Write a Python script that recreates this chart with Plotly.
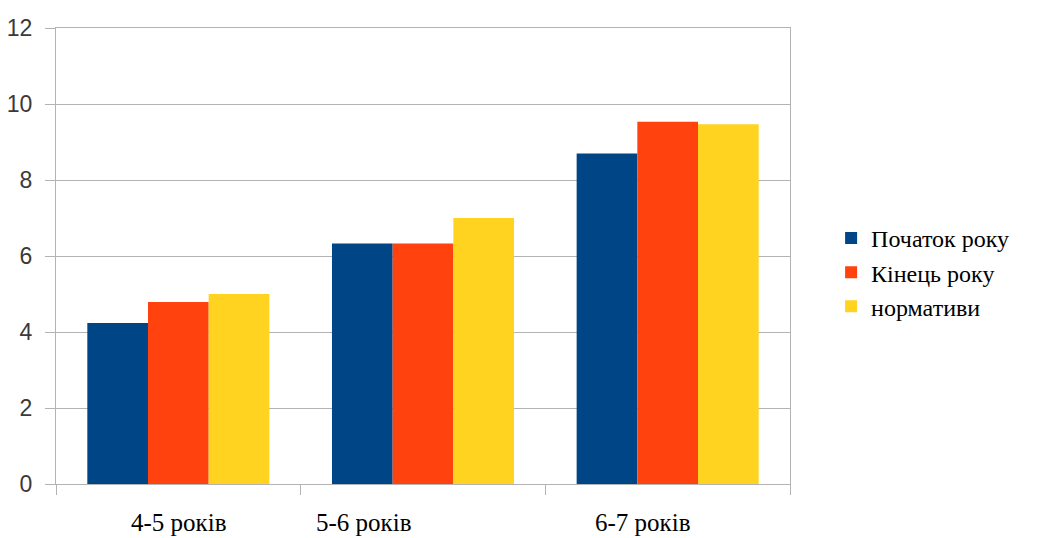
import plotly.graph_objects as go

categories = ["4-5 років", "5-6 років", "6-7 років"]
series_names = ["Початок року", "Кінець року", "нормативи"]
start_values = [4.24, 6.33, 8.7]
end_values = [4.79, 6.33, 9.53]
norm_values = [5.0, 7.0, 9.47]
y_ticks = [0, 2, 4, 6, 8, 10, 12]

colors = ["#004586", "#ff420e", "#ffd320"]
label_shifts = [0, -60, -25]

fig = go.Figure()
for name, vals, col in zip(series_names, [start_values, end_values, norm_values], colors):
    fig.add_trace(go.Bar(x=categories, y=vals, name=name, marker=dict(color=col, line=dict(width=0))))

for cat, sh in zip(categories, label_shifts):
    fig.add_annotation(x=cat, xref="x", y=0, yref="paper", yanchor="top", yshift=-23,
                       xshift=sh, text=cat, showarrow=False,
                       font=dict(family="Liberation Serif", size=25, color="#000000"))

fig.update_layout(
    width=1036, height=530,
    margin=dict(l=48, r=254, t=20, b=54, autoexpand=False),
    paper_bgcolor="white", plot_bgcolor="white",
    barmode="group", bargap=0.256, bargroupgap=0,
    showlegend=True,
    legend=dict(x=1.056, y=0.588, xanchor="left", yanchor="top",
                font=dict(family="Liberation Serif", size=24, color="#000000"),
                bgcolor="rgba(0,0,0,0)", tracegroupgap=0),
    xaxis=dict(showticklabels=False, ticks="outside", ticklen=10, tickcolor="#b3b3b3",
               tickson="boundaries", showline=True, linecolor="#b3b3b3", linewidth=1,
               mirror=True, showgrid=False, automargin=False),
    yaxis=dict(range=[0, 12], tickvals=y_ticks, ticks="outside", ticklen=10, tickcolor="#b3b3b3",
               showgrid=True, gridcolor="#b3b3b3", gridwidth=1, showline=True,
               linecolor="#b3b3b3", mirror=True, zeroline=False, ticklabelstandoff=8,
               automargin=False,
               tickfont=dict(family="Liberation Sans", size=23, color="#3a3a3a")),
)

fig.write_html("out.html")
